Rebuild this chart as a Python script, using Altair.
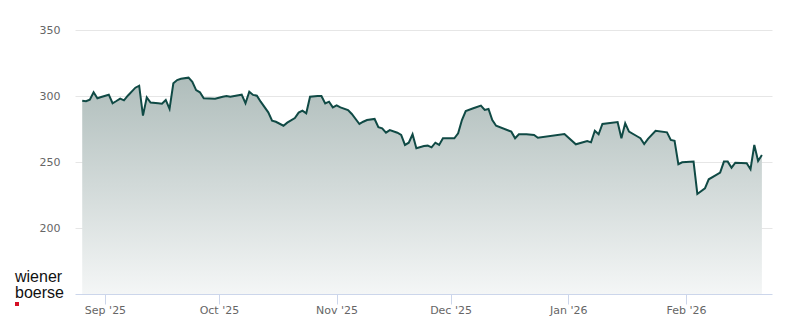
import altair as alt
import pandas as pd

dates = [
    "2025-08-26", "2025-08-27", "2025-08-28", "2025-08-29", "2025-08-30", "2025-08-31",
    "2025-09-02", "2025-09-03", "2025-09-04", "2025-09-05", "2025-09-06", "2025-09-07",
    "2025-09-09", "2025-09-10", "2025-09-11", "2025-09-12", "2025-09-13", "2025-09-15",
    "2025-09-16", "2025-09-17", "2025-09-18", "2025-09-19", "2025-09-20", "2025-09-21",
    "2025-09-23", "2025-09-24", "2025-09-25", "2025-09-26", "2025-09-27", "2025-09-30",
    "2025-10-02", "2025-10-03", "2025-10-04", "2025-10-07", "2025-10-08", "2025-10-09",
    "2025-10-10", "2025-10-11", "2025-10-12", "2025-10-14", "2025-10-15", "2025-10-16",
    "2025-10-18", "2025-10-19", "2025-10-21", "2025-10-22", "2025-10-23", "2025-10-24",
    "2025-10-25", "2025-10-27", "2025-10-28", "2025-10-29", "2025-10-30", "2025-10-31",
    "2025-11-01", "2025-11-02", "2025-11-04", "2025-11-05", "2025-11-07", "2025-11-08",
    "2025-11-09", "2025-11-11", "2025-11-12", "2025-11-13", "2025-11-14", "2025-11-15",
    "2025-11-17", "2025-11-18", "2025-11-19", "2025-11-20", "2025-11-21", "2025-11-22",
    "2025-11-24", "2025-11-25", "2025-11-26", "2025-11-27", "2025-11-28", "2025-11-29",
    "2025-12-02", "2025-12-03", "2025-12-04", "2025-12-05", "2025-12-07", "2025-12-09",
    "2025-12-10", "2025-12-11", "2025-12-12", "2025-12-13", "2025-12-17", "2025-12-18",
    "2025-12-19", "2025-12-21", "2025-12-23", "2025-12-24", "2025-12-31", "2026-01-03",
    "2026-01-06", "2026-01-07", "2026-01-08", "2026-01-09", "2026-01-10", "2026-01-14",
    "2026-01-15", "2026-01-16", "2026-01-17", "2026-01-19", "2026-01-20", "2026-01-21",
    "2026-01-22", "2026-01-24", "2026-01-27", "2026-01-28", "2026-01-29", "2026-01-30",
    "2026-01-31", "2026-02-03", "2026-02-04", "2026-02-06", "2026-02-07", "2026-02-09",
    "2026-02-10", "2026-02-11", "2026-02-12", "2026-02-13", "2026-02-14", "2026-02-17",
    "2026-02-18", "2026-02-19", "2026-02-20", "2026-02-21",
]

prices = [
    296.4, 296.0, 297.2, 302.8, 298.3, 299.2,
    301.0, 294.5, 296.2, 298.0, 296.7, 300.2,
    306.3, 307.8, 285.1, 299.0, 295.0, 294.5,
    294.2, 297.0, 290.2, 309.6, 312.1, 313.0,
    313.9, 310.8, 304.5, 302.8, 298.3, 298.0,
    299.5, 300.0, 299.5, 301.0, 294.5, 303.3,
    300.8, 300.2, 295.7, 287.6, 281.3, 280.5,
    277.5, 279.8, 283.3, 287.4, 288.9, 286.9,
    299.5, 300.0, 300.0, 294.4, 295.7, 291.4,
    292.9, 291.4, 289.4, 286.4, 278.8, 280.5,
    281.8, 282.6, 276.3, 275.5, 272.2, 274.2,
    272.2, 270.5, 262.9, 264.6, 271.0, 260.4,
    262.1, 262.4, 261.1, 264.6, 262.9, 268.0,
    268.0, 271.7, 281.8, 288.6, 290.7, 292.7,
    289.4, 290.2, 281.8, 277.5, 273.0, 268.0,
    271.0, 271.0, 270.5, 268.4, 271.2, 263.4,
    265.9, 264.9, 273.7, 271.0, 278.8, 280.3,
    268.0, 279.3, 273.0, 269.7, 268.0, 263.6,
    267.5, 273.7, 272.5, 266.7, 266.1, 248.3,
    249.8, 250.3, 225.8, 230.0, 236.9, 240.2,
    241.9, 250.3, 250.3, 245.7, 249.5, 249.0,
    244.5, 262.9, 250.8, 255.3,
]

y_ticks = [200, 250, 300, 350]
month_ticks = [(2025, 9), (2025, 10), (2025, 11), (2025, 12), (2026, 1), (2026, 2)]
logo_lines = ["wiener", "boerse"]

df = pd.DataFrame({"date": dates, "price": prices})

LINE = "#104a45"
AXIS_BLUE = "#ccd6eb"
LABEL = "#666666"

x_enc = alt.X(
    "date:T",
    scale=alt.Scale(
        type="utc",
        domain=[
            alt.DateTime(year=2025, month=8, date=24, hours=2, minutes=24, utc=True),
            alt.DateTime(year=2026, month=2, date=23, hours=15, minutes=50, utc=True),
        ],
    ),
    axis=alt.Axis(
        values=[alt.DateTime(year=y, month=m, date=1, utc=True) for y, m in month_ticks],
        labelExpr="utcFormat(datum.value, \"%b '%y\")",
        title=None,
        grid=False,
        domain=True,
        domainColor=AXIS_BLUE,
        domainWidth=1,
        ticks=True,
        tickColor=AXIS_BLUE,
        tickSize=10,
        tickWidth=1,
        labelPadding=0,
        labelFont="DejaVu Sans",
        labelFontSize=11,
        labelColor=LABEL,
        labelBaseline="top",
    ),
)

y_enc = alt.Y(
    "price:Q",
    scale=alt.Scale(domain=[150, 350], zero=False, nice=False),
    axis=alt.Axis(
        values=y_ticks,
        title=None,
        grid=True,
        gridColor="#e6e6e6",
        gridWidth=1,
        domain=False,
        ticks=False,
        labelPadding=15,
        labelFont="DejaVu Sans",
        labelFontSize=11,
        labelColor=LABEL,
    ),
)

area = alt.Chart(df).mark_area(
    color=alt.Gradient(
        gradient="linear",
        x1=0, y1=0, x2=0, y2=1,
        stops=[
            alt.GradientStop(color="#afbdbb", offset=0),
            alt.GradientStop(color="#f4f6f6", offset=1),
        ],
    ),
    interpolate="linear",
).encode(x=x_enc, y=y_enc, y2=alt.datum(150))

line = alt.Chart(df).mark_line(color=LINE, strokeWidth=2, interpolate="linear").encode(
    x="date:T", y="price:Q"
)

logo_df = pd.DataFrame({"k": [0]})
logo_text = alt.Chart(logo_df).mark_text(
    align="left",
    baseline="alphabetic",
    font="Liberation Sans",
    fontSize=16,
    lineHeight=16,
    color="#111111",
).encode(x=alt.value(-60), y=alt.value(252), text=alt.value(logo_lines))

logo_mark = alt.Chart(logo_df).mark_square(
    size=16, color="#d50f25", filled=True, opacity=1
).encode(x=alt.value(-58), y=alt.value(274))

chart = (
    alt.layer(area, line, logo_text, logo_mark)
    .properties(
        width=697,
        height=264,
        autosize=alt.AutoSizeParams(type="none"),
        padding={"left": 75, "top": 30, "right": 28, "bottom": 30},
        background="white",
    )
    .configure_view(stroke=None)
)

chart.save("out.html", embed_options={"renderer": "svg", "actions": False})
